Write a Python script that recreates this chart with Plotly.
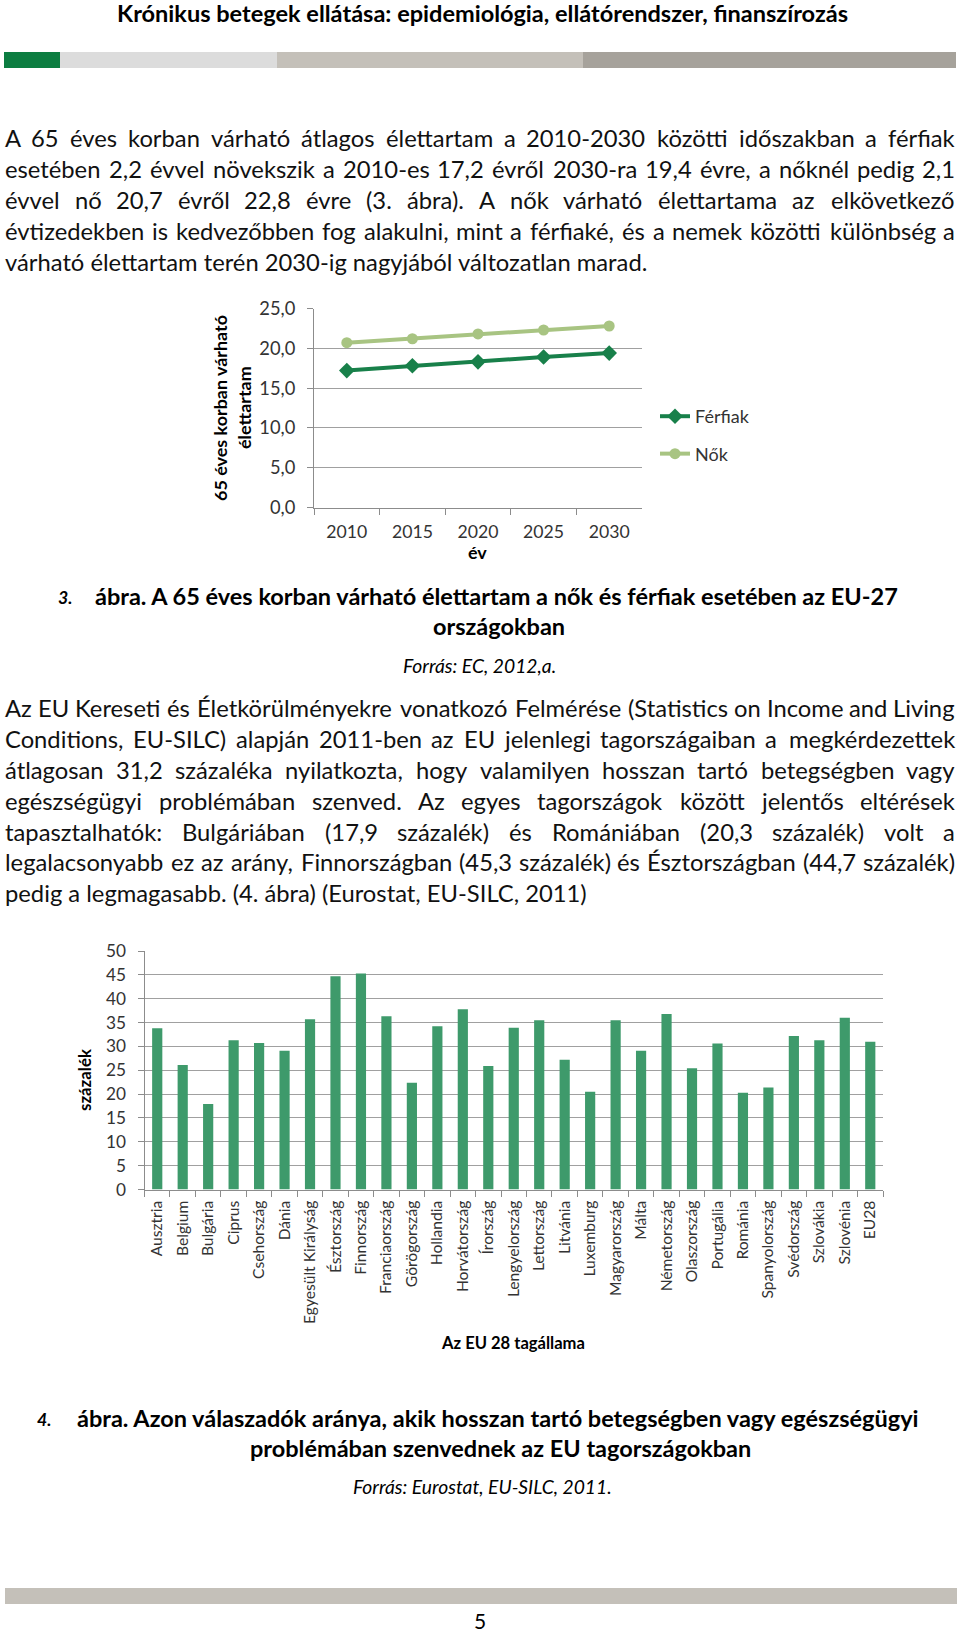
import os
import struct
import plotly.graph_objects as go

W, H = 960, 1633

# ---------------- data ----------------
years = ["2010", "2015", "2020", "2025", "2030"]
ferfiak = [17.2, 17.8, 18.3, 18.9, 19.4]
nok = [20.7, 21.2, 21.8, 22.3, 22.8]

countries = ["Ausztria", "Belgium", "Bulgária", "Ciprus", "Csehország", "Dánia",
             "Egyesült Királyság", "Észtország", "Finnország", "Franciaország",
             "Görögország", "Hollandia", "Horvátország", "Írország", "Lengyelország",
             "Lettország", "Litvánia", "Luxemburg", "Magyarország", "Málta",
             "Németország", "Olaszország", "Portugália", "Románia", "Spanyolország",
             "Svédország", "Szlovákia", "Szlovénia", "EU28"]
szazalek = [33.8, 26.1, 17.9, 31.3, 30.7, 29.1, 35.7, 44.7, 45.3, 36.3,
            22.4, 34.2, 37.8, 25.9, 33.9, 35.5, 27.2, 20.5, 35.5, 29.1,
            36.8, 25.4, 30.6, 20.3, 21.4, 32.2, 31.3, 36.0, 31.0]

header_title = "Krónikus betegek ellátása: epidemiológia, ellátórendszer, finanszírozás"
para1 = [
    "A 65 éves korban várható átlagos élettartam a 2010-2030 közötti időszakban a férfiak",
    "esetében 2,2 évvel növekszik a 2010-es 17,2 évről 2030-ra 19,4 évre, a nőknél pedig 2,1",
    "évvel nő 20,7 évről 22,8 évre (3. ábra). A nők várható élettartama az elkövetkező",
    "évtizedekben is kedvezőbben fog alakulni, mint a férfiaké, és a nemek közötti különbség a",
    "várható élettartam terén 2030-ig nagyjából változatlan marad.",
]
para2 = [
    "Az EU Kereseti és Életkörülményekre vonatkozó Felmérése (Statistics on Income and Living",
    "Conditions, EU-SILC) alapján 2011-ben az EU jelenlegi tagországaiban a megkérdezettek",
    "átlagosan 31,2 százaléka nyilatkozta, hogy valamilyen hosszan tartó betegségben vagy",
    "egészségügyi problémában szenved. Az egyes tagországok között jelentős eltérések",
    "tapasztalhatók: Bulgáriában (17,9 százalék) és Romániában (20,3 százalék) volt a",
    "legalacsonyabb ez az arány, Finnországban (45,3 százalék) és Észtországban (44,7 százalék)",
    "pedig a legmagasabb. (4. ábra) (Eurostat, EU-SILC, 2011)",
]
cap3_num = "3."
cap3_line1 = "ábra. A 65 éves korban várható élettartam a nők és férfiak esetében az EU-27"
cap3_line2 = "országokban"
cap3_src = "Forrás: EC, 2012,a."
cap4_num = "4."
cap4_line1 = "ábra. Azon válaszadók aránya, akik hosszan tartó betegségben vagy egészségügyi"
cap4_line2 = "problémában szenvednek az EU tagországokban"
cap4_src = "Forrás: Eurostat, EU-SILC, 2011."
chart1_ytitle = ["65 éves korban várható", "élettartam"]
chart1_xtitle = "év"
chart2_ytitle = "százalék"
chart2_xtitle = "Az EU 28 tagállama"
page_number = "5"

FAMILY = "Lato"


# ------------- font metrics (for sizing / justification) -------------
def _find_font(fname):
    roots = ["/usr/share/fonts", "/usr/local/share/fonts",
             os.path.expanduser("~/.fonts"), os.path.expanduser("~/.local/share/fonts")]
    for root in roots:
        if not os.path.isdir(root):
            continue
        for r, _d, fs in os.walk(root):
            if fname in fs:
                return os.path.join(r, fname)
    return None


class Metrics:
    def __init__(self, fname):
        self.ok = False
        self.cache = {}
        path = _find_font(fname)
        if not path:
            return
        try:
            data = open(path, "rb").read()
            num = struct.unpack(">H", data[4:6])[0]
            tables = {}
            for i in range(num):
                rec = 12 + 16 * i
                tag = data[rec:rec + 4].decode("latin1")
                off = struct.unpack(">I", data[rec + 8:rec + 12])[0]
                tables[tag] = off
            self.upem = struct.unpack(">H", data[tables["head"] + 18:tables["head"] + 20])[0]
            numH = struct.unpack(">H", data[tables["hhea"] + 34:tables["hhea"] + 36])[0]
            hm = tables["hmtx"]
            self.advs = struct.unpack(">%dH" % (2 * numH), data[hm:hm + 4 * numH])[0::2]
            self.numH = numH
            cm = tables["cmap"]
            n = struct.unpack(">H", data[cm + 2:cm + 4])[0]
            best = None
            for i in range(n):
                pid, eid, off = struct.unpack(">HHI", data[cm + 4 + 8 * i:cm + 12 + 8 * i])
                sub = cm + off
                fmt = struct.unpack(">H", data[sub:sub + 2])[0]
                if fmt == 4 and (pid == 0 or (pid == 3 and eid == 1)):
                    best = sub
                    break
            if best is None:
                return
            segX2 = struct.unpack(">H", data[best + 6:best + 8])[0]
            seg = segX2 // 2
            e0 = best + 14
            self.ends = struct.unpack(">%dH" % seg, data[e0:e0 + segX2])
            s0 = e0 + segX2 + 2
            self.starts = struct.unpack(">%dH" % seg, data[s0:s0 + segX2])
            d0 = s0 + segX2
            self.deltas = struct.unpack(">%dH" % seg, data[d0:d0 + segX2])
            self.r0 = d0 + segX2
            self.roffs = struct.unpack(">%dH" % seg, data[self.r0:self.r0 + segX2])
            self.seg = seg
            self.data = data
            self.ok = True
        except Exception:
            self.ok = False

    def _gid(self, c):
        for k in range(self.seg):
            if self.ends[k] >= c:
                if self.starts[k] > c:
                    return 0
                if self.roffs[k] == 0:
                    return (c + self.deltas[k]) & 0xFFFF
                a = self.r0 + 2 * k + self.roffs[k] + 2 * (c - self.starts[k])
                g = struct.unpack(">H", self.data[a:a + 2])[0]
                return (g + self.deltas[k]) & 0xFFFF if g else 0
        return 0

    def em(self, text):
        if not self.ok:
            return 0.5 * len(text)
        tot = 0
        for ch in text:
            if ch not in self.cache:
                g = self._gid(ord(ch))
                a = self.advs[g] if g < self.numH else self.advs[-1]
                self.cache[ch] = a / self.upem
            tot += self.cache[ch]
        return tot

    def width(self, text, size):
        return self.em(text) * size

    def fit(self, text, target):
        return target / self.em(text)


REG = Metrics("Lato-Regular.ttf")
BOLD = Metrics("Lato-Bold.ttf")
ITAL = Metrics("Lato-Italic.ttf")
if not ITAL.ok:
    ITAL = REG
if not BOLD.ok:
    BOLD = REG

# ------------- sizes calibrated to the reference widths -------------
s_para = REG.fit("pedig a legmagasabb. (4. ábra) (Eurost", 392)
s_head = BOLD.fit(header_title, 735)
s_cap = 0.5 * (BOLD.fit(cap3_line1, 810) + BOLD.fit(cap4_line1, 845))
s_src = ITAL.fit(cap4_src, 262)
s_c1title = BOLD.fit(chart1_ytitle[0], 188)
s_c1tick = REG.fit("25,0", 36)
s_c1x = REG.fit("2010", 41)
s_leg = REG.fit("Férfiak", 55)
s_c2x = REG.fit("Egyesült Királyság", 124)
s_c2y = REG.fit("50", 20)
s_c2xt = BOLD.fit(chart2_xtitle, 143)
s_c2yt = BOLD.fit(chart2_ytitle, 62)

annotations = []


def px(x):
    return x / W


def py(y):
    return 1 - y / H


def add_text(text, x, y, size, xanchor="left", color="#111111", angle=0, yanchor="middle"):
    annotations.append(dict(
        text=text, x=px(x), y=py(y), xref="paper", yref="paper",
        xanchor=xanchor, yanchor=yanchor, showarrow=False, textangle=angle,
        borderpad=0, borderwidth=0,
        font=dict(family=FAMILY, size=size, color=color)))


def justify(line, y, L, R, size, metrics):
    words = line.split(" ")
    ws = [metrics.width(w, size) for w in words]
    gap = (R - L - sum(ws)) / (len(words) - 1)
    gap = max(gap, 0.22 * size)
    x = L
    for i, (w, wd) in enumerate(zip(words, ws)):
        if i == 0:
            add_text(w, x, y, size, "left")
        elif i == len(words) - 1:
            add_text(w, R, y, size, "right")
        else:
            add_text(w, x + wd / 2, y, size, "center")
        x += wd + gap


L_MARGIN, R_MARGIN = 5, 955
LINE = 30.9

# header
add_text("<b>" + header_title + "</b>", 482, 13, s_head, "center", "#000000")

# paragraph 1
for i, line in enumerate(para1):
    y = 138 + i * LINE
    if i < len(para1) - 1:
        justify(line, y, L_MARGIN, R_MARGIN, s_para, REG)
    else:
        add_text(line, L_MARGIN, y, s_para, "left")

# paragraph 2
for i, line in enumerate(para2):
    y = 708 + i * LINE
    if i < len(para2) - 1:
        justify(line, y, L_MARGIN, R_MARGIN, s_para, REG)
    else:
        add_text(line, L_MARGIN, y, s_para, "left")

# caption 3
add_text("<b><i>" + cap3_num + "</i></b>", 58, 597, s_cap * 0.75, "left", "#000000")
add_text("<b>" + cap3_line1 + "</b>", 95, 596, s_cap, "left", "#000000")
add_text("<b>" + cap3_line2 + "</b>", 499, 626, s_cap, "center", "#000000")
add_text("<i>" + cap3_src + "</i>", 479, 665, s_src, "center", "#000000")

# caption 4
add_text("<b><i>" + cap4_num + "</i></b>", 37, 1419, s_cap * 0.75, "left", "#000000")
add_text("<b>" + cap4_line1 + "</b>", 77, 1418, s_cap, "left", "#000000")
add_text("<b>" + cap4_line2 + "</b>", 500, 1448, s_cap, "center", "#000000")
add_text("<i>" + cap4_src + "</i>", 482, 1486, s_src, "center", "#000000")

# page number
add_text(page_number, 480, 1620, 21, "center", "#000000")

# chart titles
add_text("<b>" + chart1_ytitle[0] + "</b>", 220, 408, s_c1title, "center", "#000000", angle=-90)
add_text("<b>" + chart1_ytitle[1] + "</b>", 244, 408, s_c1title, "center", "#000000", angle=-90)
add_text("<b>" + chart1_xtitle + "</b>", 477, 552, s_c1title, "center", "#000000")
add_text("<b>" + chart2_ytitle + "</b>", 84, 1080, s_c2yt, "center", "#000000", angle=-90)
add_text("<b>" + chart2_xtitle + "</b>", 513, 1343, s_c2xt, "center", "#000000")

# decorative bars
shapes = []


def rect(x0, y0, x1, y1, color):
    shapes.append(dict(type="rect", xref="paper", yref="paper",
                       x0=px(x0), x1=px(x1), y0=py(y1), y1=py(y0),
                       fillcolor=color, line=dict(width=0), layer="below"))


rect(4, 52, 60, 68, "#0c7d41")
rect(60, 52, 277, 68, "#dcdcdc")
rect(277, 52, 583, 68, "#c4c0b9")
rect(583, 52, 956, 68, "#a6a29b")
rect(5, 1588, 957, 1604, "#c4c0b9")

# ---------------- figure ----------------
GREEN_DARK = "#18804a"
GREEN_LIGHT = "#a8c482"
BAR = "#3e9a6b"
GRID = "#a0a0a0"
AXIS = "#8c8c8c"

fig = go.Figure()
fig.add_trace(go.Scatter(
    x=years, y=ferfiak, name="Férfiak", mode="lines+markers",
    line=dict(color=GREEN_DARK, width=4),
    marker=dict(symbol="diamond", size=12, color=GREEN_DARK),
    xaxis="x", yaxis="y", legendgroup="f"))
fig.add_trace(go.Scatter(
    x=years, y=nok, name="Nők", mode="lines+markers",
    line=dict(color=GREEN_LIGHT, width=4),
    marker=dict(symbol="circle", size=11, color=GREEN_LIGHT),
    xaxis="x", yaxis="y", legendgroup="n"))
fig.add_trace(go.Bar(
    x=countries, y=szazalek, marker=dict(color=BAR, line=dict(width=0)),
    xaxis="x2", yaxis="y2", showlegend=False))

c1_left, c1_right, c1_top, c1_bot = 314, 642, 308.5, 507.5
c2_left, c2_right, c2_top, c2_bot = 144.5, 883, 951, 1189.5

fig.update_layout(
    width=W, height=H, autosize=False,
    margin=dict(l=0, r=0, t=0, b=0, pad=0, autoexpand=False),
    paper_bgcolor="white", plot_bgcolor="white",
    separators=", ",
    font=dict(family=FAMILY, color="#333333"),
    bargap=0.6,
    showlegend=True,
    legend=dict(x=px(655), y=py(398), xanchor="left", yanchor="top",
                font=dict(family=FAMILY, size=s_leg, color="#333333"),
                bgcolor="rgba(0,0,0,0)", tracegroupgap=11, itemwidth=30),
    xaxis=dict(domain=[px(c1_left), px(c1_right)], anchor="y", type="category",
               range=[-0.5, 4.5], showgrid=False, showline=True, linecolor=AXIS, linewidth=1,
               ticks="outside", ticklen=6, tickcolor=AXIS, tickson="boundaries",
               tickfont=dict(size=s_c1x, color="#333333"), zeroline=False, automargin=False,
               ticklabelstandoff=8),
    yaxis=dict(domain=[py(c1_bot), py(c1_top)], anchor="x", range=[0, 25], dtick=5,
               tickformat=".1f", showgrid=True, gridcolor=GRID, gridwidth=1,
               showline=True, linecolor=AXIS, linewidth=1, ticks="outside", ticklen=6,
               tickcolor=AXIS, tickfont=dict(size=s_c1tick, color="#333333"),
               zeroline=False, ticklabelstandoff=8, automargin=False),
    xaxis2=dict(domain=[px(c2_left), px(c2_right)], anchor="y2", type="category",
                range=[-0.5, len(countries) - 0.5], showgrid=False, showline=True,
                linecolor=AXIS, linewidth=1, ticks="outside", ticklen=6, tickcolor=AXIS,
                tickson="boundaries", tickangle=-90,
                tickfont=dict(size=s_c2x, color="#333333"), zeroline=False, automargin=False,
                ticklabelstandoff=4),
    yaxis2=dict(domain=[py(c2_bot), py(c2_top)], anchor="x2", range=[0, 50], dtick=5,
                showgrid=True, gridcolor=GRID, gridwidth=1, showline=True, linecolor=AXIS,
                linewidth=1, ticks="outside", ticklen=6, tickcolor=AXIS,
                tickfont=dict(size=s_c2y, color="#333333"), zeroline=False,
                ticklabelstandoff=8, automargin=False),
    annotations=annotations,
    shapes=shapes,
)

PAGE_FIX = (
    "document.documentElement.style.margin='0px';"
    "document.documentElement.style.padding='0px';"
    "document.documentElement.style.overflow='hidden';"
    "document.body.style.margin='0px';"
    "document.body.style.padding='0px';"
    "document.body.style.overflow='hidden';"
    "var gd=document.getElementsByClassName('plotly-graph-div')[0];"
    "gd.style.position='absolute';gd.style.left='0px';gd.style.top='0px';"
)

fig.write_html("out.html", config={"displayModeBar": False}, post_script=PAGE_FIX)
